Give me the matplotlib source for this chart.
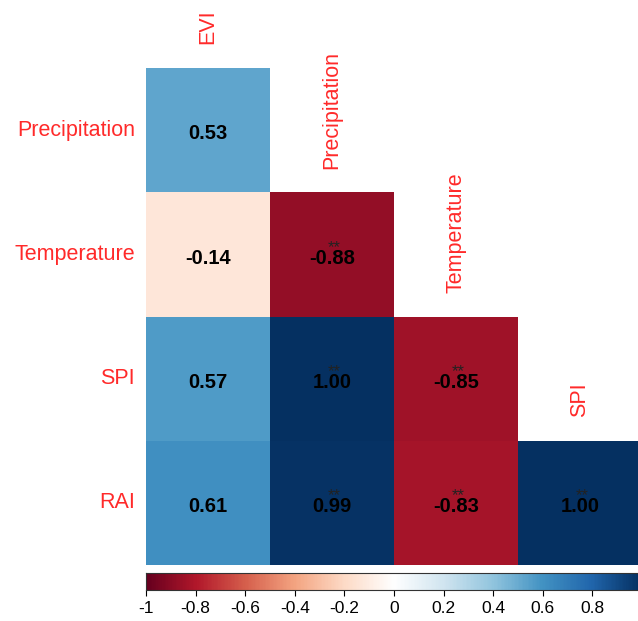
import matplotlib
matplotlib.use("Agg")
import matplotlib.pyplot as plt
import numpy as np
from matplotlib.colors import LinearSegmentedColormap

plt.rcParams["font.family"] = ["Liberation Sans", "DejaVu Sans"]

# ---------- data ----------
row_labels = ["Precipitation", "Temperature", "SPI", "RAI"]
col_labels = ["EVI", "Precipitation", "Temperature", "SPI"]
# lower triangle of the correlation matrix (nan = not drawn)
corr = np.array([
    [0.53, np.nan, np.nan, np.nan],
    [-0.14, -0.88, np.nan, np.nan],
    [0.57, 1.00, -0.85, np.nan],
    [0.61, 0.99, -0.83, 1.00],
])
# significance markers
stars = [
    ["", "", "", ""],
    ["", "**", "", ""],
    ["", "**", "**", ""],
    ["", "**", "**", "**"],
]
cbar_ticks = [-1, -0.8, -0.6, -0.4, -0.2, 0, 0.2, 0.4, 0.6, 0.8]

# corrplot-style RdBu palette
rdbu = LinearSegmentedColormap.from_list("rdbu_corr", [
    "#67001F", "#B2182B", "#D6604D", "#F4A582", "#FDDBC7", "#FFFFFF",
    "#D1E5F0", "#92C5DE", "#4393C3", "#2166AC", "#053061"])

W, H = 638, 621
fig = plt.figure(figsize=(W / 100, H / 100), dpi=100)
fig.patch.set_facecolor("white")

# ---------- matrix ----------
ax = fig.add_axes([146 / W, (H - 565) / H, 496 / W, 497 / H])
n = len(row_labels)
ax.pcolormesh(np.arange(n + 1), np.arange(n + 1), np.ma.masked_invalid(corr),
              cmap=rdbu, vmin=-1, vmax=1, edgecolors="none")
ax.set_xlim(0, n)
ax.set_ylim(n, 0)
ax.axis("off")

for i in range(n):
    for j in range(n):
        v = corr[i, j]
        if np.isnan(v):
            continue
        ax.text(j + 0.5, i + 0.53, f"{v:.2f}", ha="center", va="center",
                fontsize=14.5, fontweight="bold", color="black")
        if stars[i][j]:
            ax.text(j + 0.52, i + 0.48, stars[i][j], ha="center",
                    va="baseline", fontsize=12, color="#222222")

for i, lab in enumerate(row_labels):
    ax.text(-0.09, i + 0.5, lab, ha="right", va="center", fontsize=15.5,
            color="#FF2A2A", clip_on=False)
for j, lab in enumerate(col_labels):
    ax.text(j + 0.5, j - 0.19, lab, ha="center", va="bottom", rotation=90,
            fontsize=15.5, color="#FF2A2A", clip_on=False)

# ---------- colour bar ----------
cax = fig.add_axes([146 / W, (H - 590) / H, 496 / W, 17 / H])
grad = np.linspace(-1, 1, 400).reshape(1, -1)
cax.imshow(grad, cmap=rdbu, vmin=-1, vmax=1, aspect="auto",
           extent=[-1, 1, 0, 1])
cax.set_xlim(-1, 1)
cax.set_yticks([])
cax.set_xticks(cbar_ticks)
cax.set_xticklabels([f"{t:g}" for t in cbar_ticks])
cax.tick_params(axis="x", direction="out", length=4, width=0.8,
                labelsize=12.5, pad=4)
for s in cax.spines.values():
    s.set_linewidth(0.8)
    s.set_color("#333333")

fig.savefig("out.png", dpi=100)
